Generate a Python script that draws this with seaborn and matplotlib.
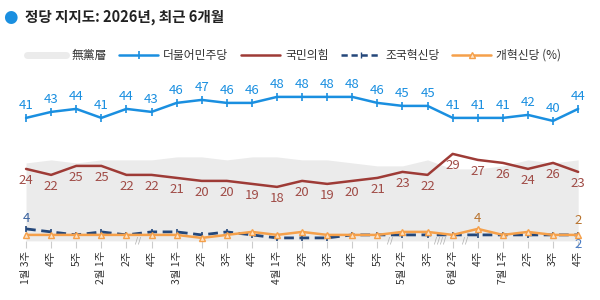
import numpy as np
import pandas as pd
import seaborn as sns
import matplotlib
matplotlib.use("Agg")
from matplotlib import pyplot as plt
from matplotlib.lines import Line2D

# ---- data ----
weeks = ["1월 3주", "4주", "5주", "2월 1주", "2주", "4주", "3월 1주", "2주", "3주", "4주",
         "4월 1주", "2주", "3주", "4주", "5주", "5월 2주", "3주", "6월 2주", "4주",
         "7월 1주", "2주", "3주", "4주"]
minjoo = [41, 43, 44, 41, 44, 43, 46, 47, 46, 46, 48, 48, 48, 48, 46, 45, 45, 41, 41, 41, 42, 40, 44]
ppp = [24, 22, 25, 25, 22, 22, 21, 20, 20, 19, 18, 20, 19, 20, 21, 23, 22, 29, 27, 26, 24, 26, 23]
rebuild = [4, 3, 2, 3, 2, 3, 3, 2, 3, 2, 1, 1, 1, 2, 2, 2, 2, 2, 2, 2, 2, 2, 2]
reform = [2, 2, 2, 2, 2, 2, 2, 1, 2, 3, 2, 3, 2, 2, 2, 3, 3, 2, 4, 2, 3, 2, 2]
nonpartisan = [26, 27, 26, 27, 27, 27, 28, 28, 27, 28, 28, 27, 27, 26, 25, 25, 27, 24, 24, 25, 27, 26, 27]
gap_marks = [(4.45, "//"), (14.5, "//"), (16.5, "////"), (17.5, "//")]

C_BLUE = "#1a8fe0"
C_RED = "#9e3b36"
C_NAVY = "#24477a"
C_ORANGE = "#f5a04a"
C_GRAY = "#ebebeb"

df = pd.DataFrame({"x": np.arange(len(weeks)), "minjoo": minjoo, "ppp": ppp,
                   "rebuild": rebuild, "reform": reform, "none": nonpartisan})

sns.set_theme(style="white")
plt.rcParams['font.family'] = ['Noto Sans CJK KR', 'DejaVu Sans']

fig = plt.figure(figsize=(6, 3), dpi=100)
ax = fig.add_axes([0.0225, 0.197, 0.962, 0.55])

ax.fill_between(df["x"], 0, df["none"], color=C_GRAY, lw=0, zorder=1)
sns.lineplot(data=df, x="x", y="ppp", ax=ax, color=C_RED, lw=1.8, zorder=3)
sns.lineplot(data=df, x="x", y="rebuild", ax=ax, color=C_NAVY, lw=2, zorder=3,
             marker="|", markersize=5, markeredgewidth=1.2, markeredgecolor=C_NAVY,
             linestyle=(0, (3.5, 2)))
sns.lineplot(data=df, x="x", y="reform", ax=ax, color=C_ORANGE, lw=1.8, zorder=4,
             marker="^", markersize=4.5, markerfacecolor="#fde3c6", markeredgecolor=C_ORANGE,
             markeredgewidth=1)
sns.lineplot(data=df, x="x", y="minjoo", ax=ax, color=C_BLUE, lw=1.8, zorder=4,
             marker="|", markersize=6, markeredgewidth=1.2, markeredgecolor=C_BLUE)
for line in ax.get_lines():
    line.set_clip_on(False)

# value labels
for i, v in enumerate(minjoo):
    ax.annotate(str(v), (i, v), xytext=(0, 4), textcoords="offset points",
                ha="center", va="bottom", fontsize=9.5, color=C_BLUE)
for i, v in enumerate(ppp):
    ax.annotate(str(v), (i, v), xytext=(0, -4), textcoords="offset points",
                ha="center", va="top", fontsize=9.5, color="#a04c47")
ax.annotate(str(rebuild[0]), (0, rebuild[0]), xytext=(0, 3), textcoords="offset points",
            ha="center", va="bottom", fontsize=9.5, color="#3a63a0")
ax.annotate(str(rebuild[-1]), (len(weeks) - 1, rebuild[-1]), xytext=(0, -2), textcoords="offset points",
            ha="center", va="top", fontsize=9.5, color="#4a7cc4")
ax.annotate(str(reform[18]), (18, reform[18]), xytext=(0, 3), textcoords="offset points",
            ha="center", va="bottom", fontsize=9.5, color="#b8732e")
ax.annotate(str(reform[-1]), (len(weeks) - 1, reform[-1]), xytext=(0, 6), textcoords="offset points",
            ha="center", va="bottom", fontsize=9.5, color="#b8732e")

for gx, s in gap_marks:
    ax.text(gx, 0, s, ha="center", va="center", fontsize=6.5, color="#b0b0b0",
            family="DejaVu Sans", zorder=5)

ax.set_xlim(-0.5, len(weeks) - 0.5)
ax.set_ylim(0, 55)
ax.set_xticks(df["x"])
ax.set_xticklabels(weeks, rotation=90, fontsize=7.5, color="#333333", va="top")
ax.set_yticks([])
ax.tick_params(axis="x", length=5, width=0.8, color="#cccccc", pad=2, bottom=True)
ax.set_xlabel("")
ax.set_ylabel("")
sns.despine(ax=ax, left=True, bottom=True)

# legend
handles = [
    Line2D([], [], color=C_GRAY, lw=5),
    Line2D([], [], color=C_BLUE, lw=1.8, marker="|", markersize=6, markeredgewidth=1.2),
    Line2D([], [], color=C_RED, lw=1.8),
    Line2D([], [], color=C_NAVY, lw=1.8, linestyle=(0, (2.5, 1.5)), marker="|", markersize=5),
    Line2D([], [], color=C_ORANGE, lw=1.8, marker="^", markersize=4.5,
           markerfacecolor="#fde3c6", markeredgecolor=C_ORANGE),
]
labels = ["無黨層", "더불어민주당", "국민의힘", "조국혁신당", "개혁신당 (%)"]
fig.legend(handles, labels, loc="center left", bbox_to_anchor=(0.028, 0.815), ncol=5,
           frameon=False, fontsize=8.5, handlelength=3.3, handletextpad=0.4,
           columnspacing=1.1, labelcolor="#333333")

# title
fig.text(0.018, 0.943, "●", color=C_BLUE, fontsize=12, ha="center", va="center",
         family="DejaVu Sans")
fig.text(0.042, 0.943, "정당 지지도: 2026년, 최근 6개월", fontsize=10.5, ha="left", va="center",
         color="#222222", fontweight="bold")

fig.savefig("out.png", dpi=100)
